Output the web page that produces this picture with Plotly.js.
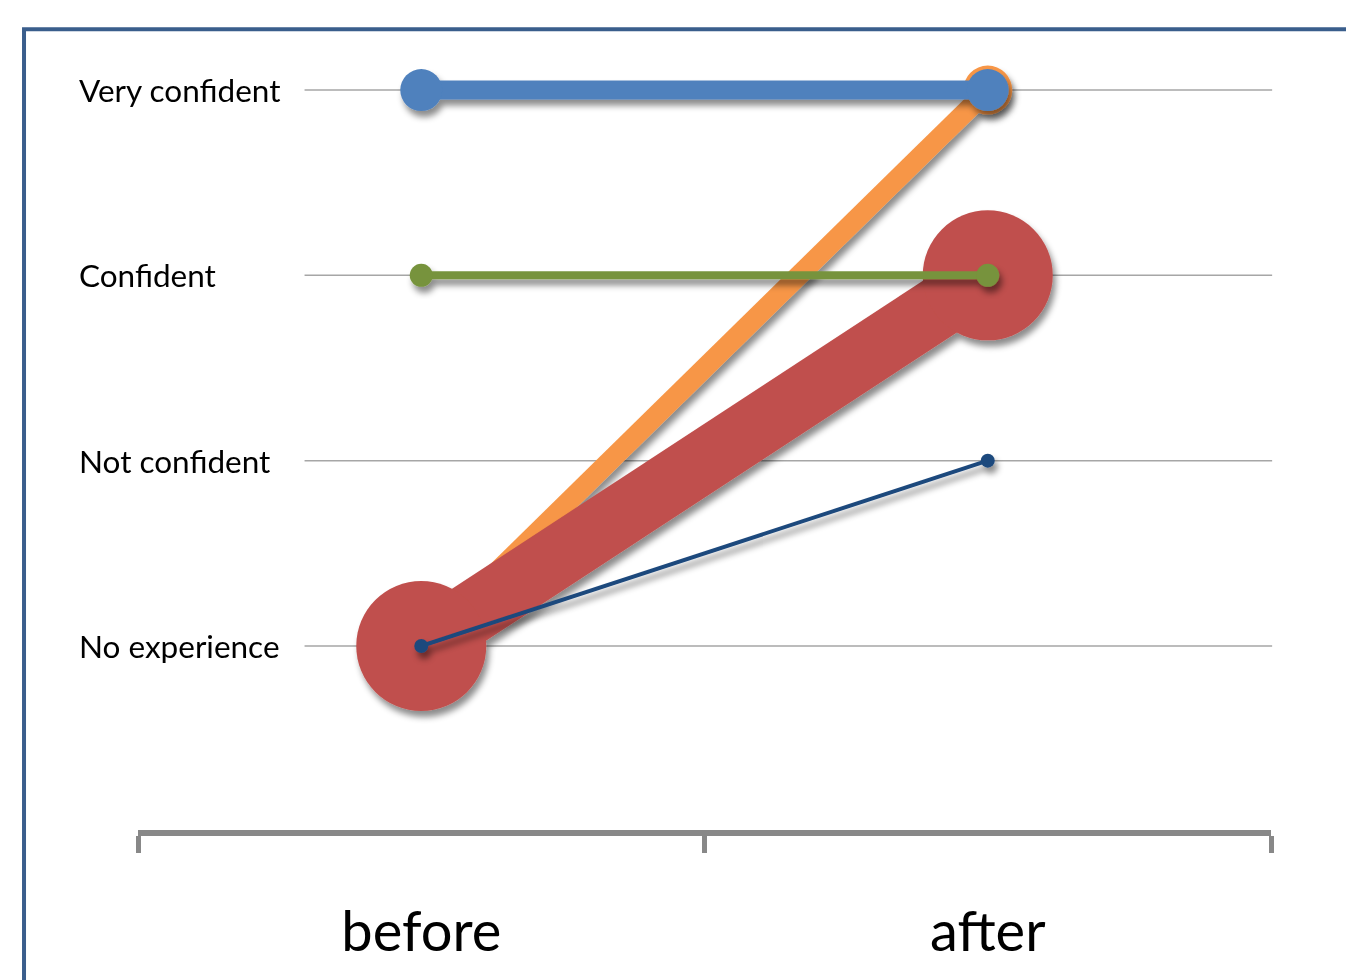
<!DOCTYPE html>
<html>
<head>
<meta charset="utf-8">
<script src="https://cdn.plot.ly/plotly-3.0.1.min.js"></script>
<style>html,body{margin:0;padding:0;background:#fff;}#chart{width:1346px;height:980px;}</style>
</head>
<body>
<div id="chart"></div>
<script>
// Data
const periods = ['before', 'after'];
const levels = ['No experience', 'Not confident', 'Confident', 'Very confident'];
const seriesOrange = ['No experience', 'Very confident'];
const seriesRed = ['No experience', 'Confident'];
const seriesBlue = ['Very confident', 'Very confident'];
const seriesGreen = ['Confident', 'Confident'];
const seriesNavy = ['No experience', 'Not confident'];

function mk(y, color, lw, ms) {
  return {
    x: periods, y: y, type: 'scatter', mode: 'lines+markers',
    line: {color: color, width: lw},
    marker: {color: color, size: ms, line: {width: 0}},
    hoverinfo: 'skip', showlegend: false
  };
}

const traces = [
  mk(seriesOrange, '#f79646', 20, 49),
  mk(seriesRed, '#c0504d', 62, 130),
  mk(seriesBlue, '#4f81bd', 19, 42),
  mk(seriesGreen, '#77933c', 8, 23),
  mk(seriesNavy, '#1f497d', 4, 14)
];

const shapes = levels.map(l => ({
  type: 'line', xref: 'paper', yref: 'y', x0: 0.147, x1: 1.001, y0: l, y1: l,
  line: {color: '#a6a6a6', width: 1.5}, layer: 'below'
}));
shapes.push({
  type: 'rect', xref: 'paper', yref: 'paper', x0: -0.1006, x1: 1.2, y0: -0.3, y1: 1.001,
  line: {color: '#3a5e8c', width: 4}, fillcolor: 'rgba(0,0,0,0)', layer: 'below'
});

const annotations = levels.map(l => ({
  xref: 'paper', yref: 'y', x: -0.054, y: l, xanchor: 'left', yanchor: 'middle',
  text: l, showarrow: false, font: {family: 'Lato, sans-serif', size: 31.5, color: '#000'}
}));

const layout = {
  width: 1346, height: 980,
  margin: {l: 138, r: 75, t: 30, b: 150},
  paper_bgcolor: '#fff', plot_bgcolor: 'rgba(0,0,0,0)',
  xaxis: {
    type: 'category', categoryorder: 'array', categoryarray: periods,
    range: [-0.5, 1.5], tickson: 'boundaries', ticks: 'outside', ticklen: 17, tickwidth: 5,
    tickcolor: '#888888', showline: true, linecolor: '#888888', linewidth: 6,
    showgrid: false, zeroline: false, ticklabelstandoff: 48,
    tickfont: {family: 'Lato, sans-serif', size: 56, color: '#000'}
  },
  yaxis: {
    type: 'category', categoryorder: 'array', categoryarray: levels,
    range: [-0.993, 3.324], showgrid: false, zeroline: false, showline: false,
    showticklabels: false, ticks: ''
  },
  shapes: shapes,
  annotations: annotations
};

Plotly.newPlot('chart', traces, layout, {staticPlot: true}).then(() => {
  const svg = document.querySelector('#chart .main-svg');
  let defs = svg.querySelector('defs');
  const ns = 'http://www.w3.org/2000/svg';
  const f = document.createElementNS(ns, 'filter');
  f.setAttribute('id', 'dshadow');
  f.setAttribute('x', '-50%'); f.setAttribute('y', '-50%');
  f.setAttribute('width', '200%'); f.setAttribute('height', '200%');
  const d = document.createElementNS(ns, 'feDropShadow');
  d.setAttribute('dx', '3'); d.setAttribute('dy', '6');
  d.setAttribute('stdDeviation', '3');
  d.setAttribute('flood-color', '#000'); d.setAttribute('flood-opacity', '0.45');
  f.appendChild(d); defs.appendChild(f);
  document.querySelectorAll('#chart .scatterlayer .trace').forEach(t => t.setAttribute('filter', 'url(#dshadow)'));
});
</script>
</body>
</html>
